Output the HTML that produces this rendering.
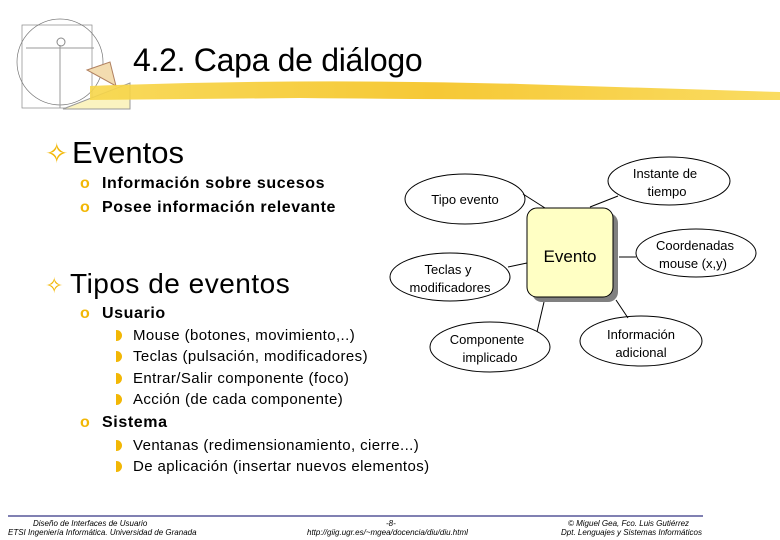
<!DOCTYPE html>
<html><head><meta charset="utf-8"><style>
body{margin:0;width:780px;height:540px;background:#fff;position:relative;overflow:hidden;font-family:"Liberation Sans",sans-serif;}
.a{position:absolute;white-space:nowrap;color:#000;}
.b{color:#f2b705;}
.bd{font-size:16px;font-weight:bold;letter-spacing:0.6px}
.sb{font-size:15px;letter-spacing:0.4px}
.sb i{display:inline-block;width:6px;height:11px;background:#f2b705;border-radius:0 6px 6px 0;margin-right:11px;vertical-align:-1px}
.ft{font-size:8px;font-style:italic;color:#000;position:absolute;white-space:nowrap;}
</style></head><body>
<svg width="780" height="540" style="position:absolute;left:0;top:0">
<defs><linearGradient id="g" x1="0" x2="1"><stop offset="0" stop-color="#f7d64a"/><stop offset="0.5" stop-color="#f5c21f"/><stop offset="1" stop-color="#f9d850"/></linearGradient></defs>
<rect x="22" y="25" width="70" height="83" fill="none" stroke="#888" stroke-width="0.7"/>
<circle cx="60" cy="62" r="43" fill="none" stroke="#777" stroke-width="0.7"/>
<line x1="26" y1="48" x2="94" y2="48" stroke="#999"/>
<line x1="60" y1="45" x2="60" y2="108" stroke="#999"/>
<circle cx="61" cy="42" r="4" fill="none" stroke="#888"/>
<polygon points="87,70 110,62 116,86" fill="#f3dcb0" stroke="#b08060"/>
<polygon points="63,109 130,83 130,109" fill="#fbf3c0" stroke="#999"/>
<path d="M90,86 Q300,78 520,84 L780,92 L780,100 Q500,100 300,98 L90,100 Z" fill="url(#g)" opacity="0.9"/>
<g fill="#fff" stroke="#000" stroke-width="1">
<ellipse cx="465" cy="199" rx="60" ry="25"/>
<ellipse cx="669" cy="181" rx="61" ry="24"/>
<ellipse cx="696" cy="253" rx="60" ry="24"/>
<ellipse cx="450" cy="277" rx="60" ry="24"/>
<ellipse cx="490" cy="347" rx="60" ry="25"/>
<ellipse cx="641" cy="341" rx="61" ry="25"/>
</g>
<g stroke="#000" stroke-width="1">
<line x1="523" y1="194" x2="545" y2="208"/>
<line x1="590" y1="207" x2="618" y2="196"/>
<line x1="619" y1="257" x2="636" y2="257"/>
<line x1="508" y1="267" x2="527" y2="263"/>
<line x1="544" y1="302" x2="537" y2="332"/>
<line x1="616" y1="300" x2="628" y2="318"/>
</g>
<rect x="532" y="213" width="86" height="89" rx="10" fill="#808080"/>
<rect x="527" y="208" width="86" height="89" rx="10" fill="#ffffc4" stroke="#000"/>
<text x="570" y="262" text-anchor="middle" font-family="Liberation Sans,sans-serif" font-size="17">Evento</text>
<g font-family="Liberation Sans,sans-serif" font-size="13" text-anchor="middle" fill="#000">
<text x="465" y="204">Tipo evento</text>
<text x="665" y="178">Instante de</text><text x="667" y="196">tiempo</text>
<text x="695" y="250">Coordenadas</text><text x="693" y="268">mouse (x,y)</text>
<text x="448" y="274">Teclas y</text><text x="450" y="292">modificadores</text>
<text x="487" y="344">Componente</text><text x="490" y="362">implicado</text>
<text x="641" y="339">Información</text><text x="641" y="357">adicional</text>
</g>
<line x1="8" y1="516" x2="703" y2="516" stroke="#000066" stroke-width="1"/>
</svg>
<div class="a" style="left:133px;top:42px;font-size:32px;letter-spacing:-0.3px">4.2. Capa de diálogo</div>
<div class="a" style="left:45px;top:135px;font-size:31px"><span class="b" style="font-size:28px;display:inline-block;width:27px">✧</span>Eventos</div>
<div class="a bd" style="left:80px;top:175px"><span class="b" style="display:inline-block;width:22px">o</span>Información sobre sucesos</div>
<div class="a bd" style="left:80px;top:199px"><span class="b" style="display:inline-block;width:22px">o</span>Posee información relevante</div>
<div class="a" style="left:45px;top:268px;font-size:28px;letter-spacing:0.5px"><span class="b" style="font-size:22px;display:inline-block;width:25px">✧</span>Tipos de eventos</div>
<div class="a bd" style="left:80px;top:305px"><span class="b" style="display:inline-block;width:22px">o</span>Usuario</div>
<div class="a sb" style="left:116px;top:327px"><i></i>Mouse (botones, movimiento,..)</div>
<div class="a sb" style="left:116px;top:348px"><i></i>Teclas (pulsación, modificadores)</div>
<div class="a sb" style="left:116px;top:370px"><i></i>Entrar/Salir componente (foco)</div>
<div class="a sb" style="left:116px;top:391px"><i></i>Acción (de cada componente)</div>
<div class="a bd" style="left:80px;top:414px"><span class="b" style="display:inline-block;width:22px">o</span>Sistema</div>
<div class="a sb" style="left:116px;top:437px"><i></i>Ventanas (redimensionamiento, cierre...)</div>
<div class="a sb" style="left:116px;top:458px"><i></i>De aplicación (insertar nuevos elementos)</div>
<div class="ft" style="left:33px;top:519px">Diseño de Interfaces de Usuario</div>
<div class="ft" style="left:8px;top:528px">ETSI Ingeniería Informática. Universidad de Granada</div>
<div class="ft" style="left:386px;top:519px">-8-</div>
<div class="ft" style="left:307px;top:528px">http://giig.ugr.es/~mgea/docencia/diu/diu.html</div>
<div class="ft" style="left:568px;top:519px">© Miguel Gea, Fco. Luis Gutiérrez</div>
<div class="ft" style="left:561px;top:528px">Dpt. Lenguajes y Sistemas Informáticos</div>
</body></html>
